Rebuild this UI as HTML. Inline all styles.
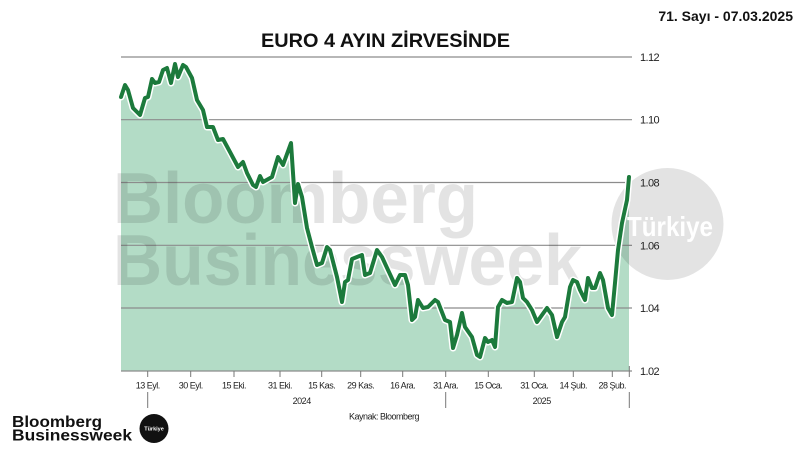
<!DOCTYPE html>
<html>
<head>
<meta charset="utf-8">
<style>
  html,body{margin:0;padding:0;background:#fff;}
  svg{display:block;}
  text{font-family:"Liberation Sans", Arial, sans-serif;}
</style>
</head>
<body>
<svg width="800" height="450" viewBox="0 0 800 450" xmlns="http://www.w3.org/2000/svg">
  <rect width="800" height="450" fill="#fff"/>

  <!-- top right issue -->
  <text x="793" y="21" text-anchor="end" font-size="14" font-weight="bold" fill="#111">71. Sayı - 07.03.2025</text>

  <!-- title -->
  <text x="385.5" y="47" text-anchor="middle" font-size="19.5" font-weight="bold" fill="#111" textLength="249" lengthAdjust="spacingAndGlyphs">EURO 4 AYIN ZİRVESİNDE</text>

  <!-- area fill -->
  <polygon fill="#b3dcc6" points="121,371 121,97 125,85 128,90 133,108 140,115 145,98 148,97 152,79 155,83 159,82 163,70 167,68 171,83 175,64 178,77 183,65 186,67 192,78 197,100 203,110 207,127 213,127 218,140 223,139 230,152 238,167 243,162 247,173 253,185 256,187 260,176 263,182 272,177 278,157 283,165 291,143 295,203 298,184 302,197 307,228 312,247 317,265 322,263 327,247 330,250 337,277 342,302 345,282 348,280 352,259 357,257 362,255 365,275 370,273 377,250 382,257 388,270 395,285 400,275 405,275 408,285 412,320 415,317 418,300 423,308 428,307 435,300 438,302 445,320 450,322 453,348 457,335 462,313 465,327 472,337 477,355 480,357 485,338 488,342 492,340 495,347 498,307 502,300 507,303 512,302 517,278 520,282 523,298 527,302 532,310 537,322 542,315 547,308 552,315 557,337 562,322 565,317 570,287 573,280 577,282 580,290 585,300 588,278 592,288 595,288 600,273 603,280 608,308 612,315 615,283 618,250 622,223 627,200 629,177 629,371"/>

  <!-- gridlines -->
  <g stroke="#8c8c8c" stroke-width="1.2">
    <line x1="121" y1="57" x2="632" y2="57"/>
    <line x1="121" y1="119.7" x2="632" y2="119.7"/>
    <line x1="121" y1="182.5" x2="632" y2="182.5"/>
    <line x1="121" y1="245.3" x2="632" y2="245.3"/>
    <line x1="121" y1="308" x2="632" y2="308"/>
    <line x1="121" y1="371" x2="632" y2="371"/>
  </g>

  <!-- watermark -->
  <g fill="#000" fill-opacity="0.11" font-weight="bold">
    <text x="113" y="223" font-size="72" textLength="365" lengthAdjust="spacingAndGlyphs">Bloomberg</text>
    <text x="113" y="285" font-size="72" textLength="469" lengthAdjust="spacingAndGlyphs">Businessweek</text>
    <circle cx="667.5" cy="224" r="56"/>
  </g>
  <text x="670" y="236" text-anchor="middle" font-size="28" font-weight="bold" fill="#fff" textLength="86" lengthAdjust="spacingAndGlyphs">Türkiye</text>

  <!-- line -->
  <polyline fill="none" stroke="#fff" stroke-width="7" stroke-linejoin="round" stroke-linecap="round" points="121,97 125,85 128,90 133,108 140,115 145,98 148,97 152,79 155,83 159,82 163,70 167,68 171,83 175,64 178,77 183,65 186,67 192,78 197,100 203,110 207,127 213,127 218,140 223,139 230,152 238,167 243,162 247,173 253,185 256,187 260,176 263,182 272,177 278,157 283,165 291,143 295,203 298,184 302,197 307,228 312,247 317,265 322,263 327,247 330,250 337,277 342,302 345,282 348,280 352,259 357,257 362,255 365,275 370,273 377,250 382,257 388,270 395,285 400,275 405,275 408,285 412,320 415,317 418,300 423,308 428,307 435,300 438,302 445,320 450,322 453,348 457,335 462,313 465,327 472,337 477,355 480,357 485,338 488,342 492,340 495,347 498,307 502,300 507,303 512,302 517,278 520,282 523,298 527,302 532,310 537,322 542,315 547,308 552,315 557,337 562,322 565,317 570,287 573,280 577,282 580,290 585,300 588,278 592,288 595,288 600,273 603,280 608,308 612,315 615,283 618,250 622,223 627,200 629,177"/>
  <polyline fill="none" stroke="#1c7a3c" stroke-width="4" stroke-linejoin="round" stroke-linecap="round" points="121,97 125,85 128,90 133,108 140,115 145,98 148,97 152,79 155,83 159,82 163,70 167,68 171,83 175,64 178,77 183,65 186,67 192,78 197,100 203,110 207,127 213,127 218,140 223,139 230,152 238,167 243,162 247,173 253,185 256,187 260,176 263,182 272,177 278,157 283,165 291,143 295,203 298,184 302,197 307,228 312,247 317,265 322,263 327,247 330,250 337,277 342,302 345,282 348,280 352,259 357,257 362,255 365,275 370,273 377,250 382,257 388,270 395,285 400,275 405,275 408,285 412,320 415,317 418,300 423,308 428,307 435,300 438,302 445,320 450,322 453,348 457,335 462,313 465,327 472,337 477,355 480,357 485,338 488,342 492,340 495,347 498,307 502,300 507,303 512,302 517,278 520,282 523,298 527,302 532,310 537,322 542,315 547,308 552,315 557,337 562,322 565,317 570,287 573,280 577,282 580,290 585,300 588,278 592,288 595,288 600,273 603,280 608,308 612,315 615,283 618,250 622,223 627,200 629,177"/>

  <!-- y labels -->
  <g font-size="11" fill="#222" letter-spacing="-0.6">
    <text x="640" y="61">1.12</text>
    <text x="640" y="123.7">1.10</text>
    <text x="640" y="186.5">1.08</text>
    <text x="640" y="249.3">1.06</text>
    <text x="640" y="312">1.04</text>
    <text x="640" y="375">1.02</text>
  </g>

  <!-- x ticks -->
  <g stroke="#777" stroke-width="1">
    <line x1="147.7" y1="371" x2="147.7" y2="377"/>
    <line x1="190.7" y1="371" x2="190.7" y2="377"/>
    <line x1="234" y1="371" x2="234" y2="377"/>
    <line x1="280" y1="371" x2="280" y2="377"/>
    <line x1="321.7" y1="371" x2="321.7" y2="377"/>
    <line x1="360.7" y1="371" x2="360.7" y2="377"/>
    <line x1="402.7" y1="371" x2="402.7" y2="377"/>
    <line x1="445.7" y1="371" x2="445.7" y2="377"/>
    <line x1="488.3" y1="371" x2="488.3" y2="377"/>
    <line x1="534.3" y1="371" x2="534.3" y2="377"/>
    <line x1="573.3" y1="371" x2="573.3" y2="377"/>
    <line x1="612.3" y1="371" x2="612.3" y2="377"/>
    <line x1="629.3" y1="366" x2="629.3" y2="377"/>
    <line x1="147.7" y1="392" x2="147.7" y2="408"/>
    <line x1="445.7" y1="392" x2="445.7" y2="408"/>
    <line x1="629.3" y1="392" x2="629.3" y2="408"/>
  </g>

  <!-- x labels -->
  <g font-size="9" fill="#222" text-anchor="middle" letter-spacing="-0.5">
    <text x="147.7" y="388.5">13 Eyl.</text>
    <text x="190.7" y="388.5">30 Eyl.</text>
    <text x="234" y="388.5">15 Eki.</text>
    <text x="280" y="388.5">31 Eki.</text>
    <text x="321.7" y="388.5">15 Kas.</text>
    <text x="360.7" y="388.5">29 Kas.</text>
    <text x="402.7" y="388.5">16 Ara.</text>
    <text x="445.7" y="388.5">31 Ara.</text>
    <text x="488.3" y="388.5">15 Oca.</text>
    <text x="534.3" y="388.5">31 Oca.</text>
    <text x="573.3" y="388.5">14 Şub.</text>
    <text x="612.3" y="388.5">28 Şub.</text>
    <text x="301.7" y="404">2024</text>
    <text x="541.7" y="404">2025</text>
    <text x="384" y="419.5">Kaynak: Bloomberg</text>
  </g>

  <!-- bottom-left logo -->
  <g font-weight="bold" fill="#111">
    <text x="12" y="427" font-size="16" textLength="90" lengthAdjust="spacingAndGlyphs">Bloomberg</text>
    <text x="12" y="440.5" font-size="16" textLength="120" lengthAdjust="spacingAndGlyphs">Businessweek</text>
  </g>
  <circle cx="154" cy="428.5" r="14.5" fill="#111"/>
  <text x="154" y="430.5" text-anchor="middle" font-size="5.5" font-weight="bold" fill="#fff">Türkiye</text>
</svg>
</body>
</html>
